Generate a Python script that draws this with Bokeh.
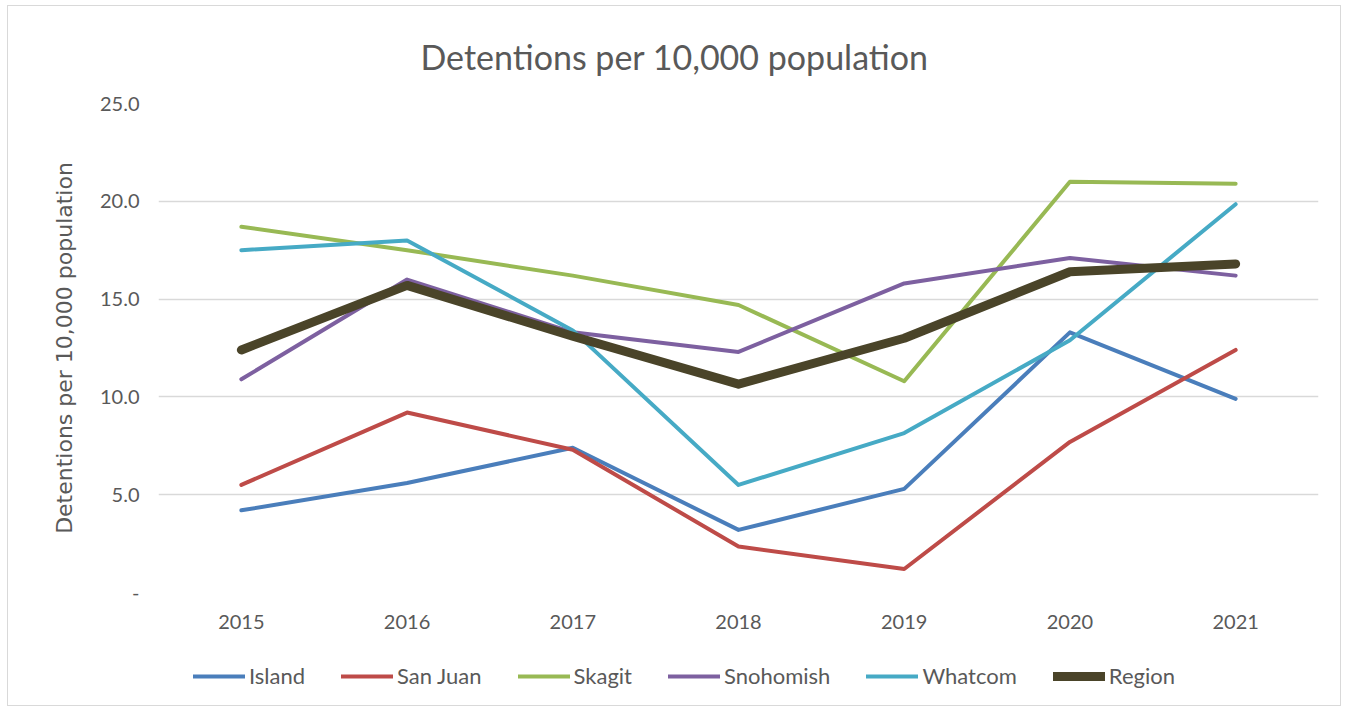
from bokeh.plotting import figure
from bokeh.layouts import column
from bokeh.models import FixedTicker, NumeralTickFormatter, Legend, LegendItem, Range1d
from bokeh.embed import file_html
from bokeh.resources import INLINE

years = ["2015", "2016", "2017", "2018", "2019", "2020", "2021"]
island = [4.2, 5.6, 7.4, 3.2, 5.3, 13.3, 9.9]
san_juan = [5.5, 9.2, 7.3, 2.35, 1.2, 7.7, 12.4]
skagit = [18.7, 17.5, 16.2, 14.7, 10.8, 21.0, 20.9]
snohomish = [10.9, 16.0, 13.3, 12.3, 15.8, 17.1, 16.2]
whatcom = [17.5, 18.0, 13.4, 5.5, 8.15, 12.9, 19.85]
region = [12.4, 15.7, 13.1, 10.65, 13.0, 16.4, 16.8]
y_ticks = [0, 5, 10, 15, 20, 25]

series = [
    ("Island", island, "#4A7EBB", 4),
    ("San Juan", san_juan, "#BE4B48", 4),
    ("Skagit", skagit, "#98B954", 4),
    ("Snohomish", snohomish, "#7D60A0", 4),
    ("Whatcom", whatcom, "#46AAC5", 4),
    ("Region", region, "#4A4429", 9),
]

FONT = "Lato"
GRAY = "#595959"

p = figure(width=1332, height=640, x_range=years, y_range=(0, 25),
           output_backend="svg", toolbar_location=None,
           min_border_left=150, min_border_right=22, min_border_top=97, min_border_bottom=54)
p.outline_line_color = None
p.background_fill_color = "white"
p.border_fill_color = "white"

p.title.text = "Detentions per 10,000 population"
p.title.align = "left"
p.title.offset = 262
p.title.text_font = FONT
p.title.text_font_size = "34px"
p.title.text_font_style = "normal"
p.title.text_color = GRAY
p.title.standoff = 54

for name, vals, color, w in series:
    p.line(years, vals, line_color=color, line_width=w, line_join="round", line_cap="round")

p.xgrid.grid_line_color = None
p.ygrid.grid_line_color = "#d9d9d9"
p.ygrid.grid_line_width = 1.5

p.yaxis.ticker = FixedTicker(ticks=y_ticks)
p.yaxis.formatter = NumeralTickFormatter(format="0.0")
p.yaxis.major_label_overrides = {0: "-"}
for ax in (p.xaxis[0], p.yaxis[0]):
    ax.axis_line_color = None
    ax.major_tick_line_color = None
    ax.minor_tick_line_color = None
    ax.major_label_text_font = FONT
    ax.major_label_text_font_size = "20px"
    ax.major_label_text_color = GRAY

p.yaxis.major_label_standoff = 13
p.xaxis.major_label_standoff = 16
p.yaxis.axis_label = "Detentions per 10,000 population"
p.yaxis.axis_label_text_font = "DejaVu Sans"
p.yaxis.axis_label_text_font_size = "22px"
p.yaxis.axis_label_text_font_style = "normal"
p.yaxis.axis_label_text_color = GRAY
p.yaxis.axis_label_standoff = 20

# legend strip: same series drawn outside its visible range, only the legend shows
lg = figure(width=1332, height=59, x_range=years, y_range=Range1d(100, 101),
            output_backend="svg", toolbar_location=None,
            x_axis_type=None, y_axis_type=None, min_border=0)
lg.outline_line_color = None
lg.xgrid.grid_line_color = None
lg.ygrid.grid_line_color = None
items = []
for name, vals, color, w in series:
    r = lg.line(years, vals, line_color=color, line_width=w, line_cap="round")
    items.append(LegendItem(label=name, renderers=[r]))
legend = Legend(items=items, orientation="horizontal", location=(35, 16),
                label_text_font=FONT, label_text_font_size="22px", label_text_color=GRAY,
                glyph_width=52, label_standoff=4, spacing=36, border_line_color=None,
                background_fill_alpha=0, margin=0, padding=0)
lg.add_layout(legend, "center")

layout = column(p, lg, spacing=0)
layout.margin = (6, 0, 0, 8)
layout.styles = {"outline": "1px solid #d9d9d9"}

open("out.html", "w").write(file_html(layout, INLINE))
